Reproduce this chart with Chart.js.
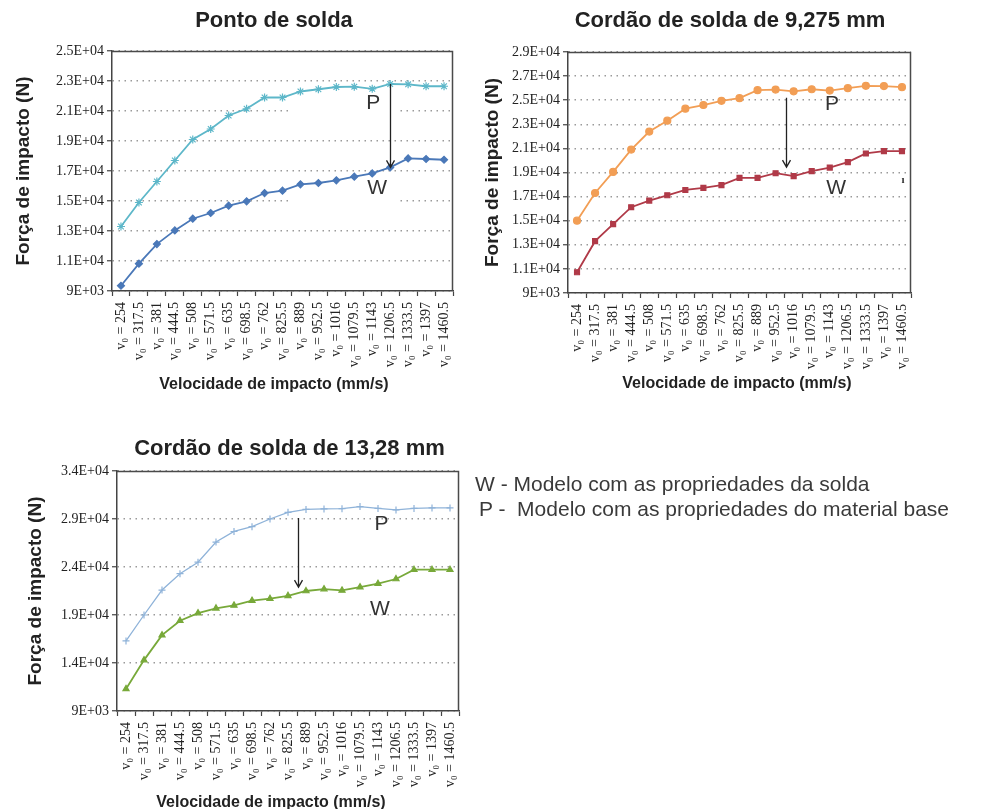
<!DOCTYPE html>
<html>
<head>
<meta charset="utf-8">
<script src="https://cdn.jsdelivr.net/npm/chart.js@4.4.1/dist/chart.umd.min.js"></script>
<style>
  html, body { margin: 0; padding: 0; background: #fff; width: 990px; height: 809px; overflow: hidden; }
  canvas { position: absolute; }
  .note { position: absolute; font-family: "Liberation Sans", Arial, sans-serif; font-size: 21px; color: #3a3a3a; white-space: pre; line-height: 25px; }
</style>
</head>
<body>
<canvas id="c1" width="475" height="400" style="left:0;top:0"></canvas>
<canvas id="c2" width="475" height="400" style="left:475px;top:0"></canvas>
<canvas id="c3" width="480" height="389" style="left:0;top:420px"></canvas>
<div class="note" style="left:475px;top:471px">W - Modelo com as propriedades da solda</div>
<div class="note" style="left:479px;top:496px">P -  Modelo com as propriedades do material base</div>
<script>
// Impact velocities (mm/s) and the axis labels built from them
const velocities = ['254', '317.5', '381', '444.5', '508', '571.5', '635', '698.5', '762', '825.5',
                    '889', '952.5', '1016', '1079.5', '1143', '1206.5', '1333.5', '1397', '1460.5'];
const velocityLabels = velocities.map(v => 'v\u2080 = ' + v);

// Ponto de solda
const pontoP = [13300, 14900, 16300, 17700, 19100, 19800, 20700, 21150, 21900, 21900,
                22300, 22450, 22600, 22620, 22480, 22800, 22780, 22650, 22650];
const pontoW = [9350, 10820, 12130, 13040, 13820, 14200, 14690, 14980, 15530, 15690,
                16110, 16200, 16380, 16620, 16840, 17240, 17840, 17800, 17750];
const pontoTicks = [9000, 11000, 13000, 15000, 17000, 19000, 21000, 23000, 25000];

// Cordão de solda de 9,275 mm
const cordao9P = [15000, 17300, 19050, 20900, 22400, 23300, 24300, 24600, 24950, 25170,
                  25830, 25880, 25740, 25910, 25800, 26000, 26190, 26170, 26080];
const cordao9W = [10720, 13300, 14720, 16120, 16670, 17110, 17550, 17720, 17950, 18560,
                  18560, 18940, 18700, 19110, 19410, 19860, 20580, 20780, 20780];
const cordao9Ticks = [9000, 11000, 13000, 15000, 17000, 19000, 21000, 23000, 25000, 27000, 29000];

// Cordão de solda de 13,28 mm
const cordao13P = [16300, 19000, 21600, 23300, 24500, 26600, 27700, 28200, 29000, 29700,
                   30000, 30050, 30080, 30290, 30100, 29950, 30100, 30150, 30150];
const cordao13W = [11300, 14300, 16900, 18400, 19200, 19700, 20000, 20500, 20700, 21000,
                   21500, 21700, 21560, 21900, 22260, 22750, 23720, 23720, 23720];
const cordao13Ticks = [9000, 14000, 19000, 24000, 29000, 34000];

const SANS = '"Liberation Sans", Arial, sans-serif';
const SERIF = '"Liberation Serif", "DejaVu Serif", serif';

// 25000 -> "2.5E+04"
function sci(v) {
  const [m, e] = Number(v).toExponential().split('e');
  return m + 'E' + e[0] + e.slice(1).padStart(2, '0');
}

// Frame, headings, P/W tags and the P→W arrow of each panel
const panelPlugin = {
  id: 'panel',
  beforeDatasetsDraw(chart, args, o) {
    const { ctx, scales: { x, y } } = chart;
    ctx.save();
    ctx.fillStyle = '#fff';
    (o.gaps || []).forEach(g => {
      const yy = y.getPixelForValue(g.value);
      const x1 = x.getPixelForValue(g.from), x2 = x.getPixelForValue(g.to);
      ctx.fillRect(x1, yy - 2, x2 - x1, 4);
    });
    ctx.restore();
  },
  afterDraw(chart, args, o) {
    const { ctx, chartArea: a, scales: { x, y } } = chart;
    ctx.save();
    ctx.strokeStyle = '#4a4a4a';
    ctx.lineWidth = 1.5;
    ctx.beginPath();
    ctx.moveTo(a.left, a.top + 0.5);
    ctx.lineTo(a.right - 0.5, a.top + 0.5);
    ctx.lineTo(a.right - 0.5, a.bottom);
    ctx.stroke();

    const cx = (a.left + a.right) / 2;
    ctx.fillStyle = '#222';
    ctx.textAlign = 'center';
    ctx.textBaseline = 'alphabetic';
    ctx.font = 'bold 22px ' + SANS;
    ctx.fillText(o.title, cx + o.titleDx, o.titleY);
    ctx.font = 'bold 16px ' + SANS;
    ctx.fillText(o.xTitle, cx + o.xTitleDx, o.xTitleY);

    ctx.textBaseline = 'middle';
    o.tags.forEach(t => {
      ctx.font = t.font || ('21px ' + SANS);
      ctx.fillStyle = '#333';
      ctx.fillText(t.text, x.getPixelForValue(t.at), y.getPixelForValue(t.value));
    });

    const ar = o.arrow;
    const ax = Math.round(x.getPixelForValue(ar.at)) + 0.5;
    const y1 = y.getPixelForValue(ar.from), y2 = y.getPixelForValue(ar.to);
    ctx.strokeStyle = '#222';
    ctx.lineWidth = 1.3;
    ctx.beginPath();
    ctx.moveTo(ax, y1);
    ctx.lineTo(ax, y2);
    ctx.moveTo(ax - 4, y2 - 7);
    ctx.lineTo(ax, y2);
    ctx.lineTo(ax + 4, y2 - 7);
    ctx.stroke();
    ctx.restore();
  }
};

function series(data, color, style, radius, lineWidth) {
  return {
    data,
    borderColor: color,
    backgroundColor: color,
    pointBorderColor: color,
    pointBackgroundColor: color,
    pointStyle: style,
    pointRadius: radius,
    pointBorderWidth: 1.2,
    borderWidth: lineWidth,
    tension: 0,
    fill: false
  };
}

function panel(id, cfg) {
  const canvas = document.getElementById(id);
  const W = canvas.width, H = canvas.height, area = cfg.area;
  return new Chart(canvas, {
    type: 'line',
    data: { labels: velocityLabels, datasets: cfg.datasets },
    plugins: [panelPlugin],
    options: {
      responsive: false,
      animation: false,
      devicePixelRatio: 1,
      layout: { padding: { left: 0, top: area.top, right: W - area.right, bottom: 0 } },
      plugins: {
        legend: { display: false },
        tooltip: { enabled: false },
        title: { display: false },
        panel: cfg.panel
      },
      scales: {
        x: {
          type: 'category',
          offset: true,
          grid: { display: true, drawOnChartArea: false, drawTicks: true, tickLength: 5, offset: true,
                  tickColor: '#444', tickWidth: 1.2 },
          border: { display: true, color: '#444', width: 1.5 },
          ticks: { autoSkip: false, maxRotation: 90, minRotation: 90, padding: 6,
                   font: { family: SERIF, size: 14 }, color: '#222' },
          afterFit: s => { s.height = H - area.bottom; }
        },
        y: {
          min: cfg.ticks[0],
          max: cfg.ticks[cfg.ticks.length - 1],
          afterBuildTicks: s => { s.ticks = cfg.ticks.map(v => ({ value: v })); },
          grid: { color: '#9a9a9a', lineWidth: 1.5, drawTicks: true, tickLength: 5,
                  tickColor: '#444', tickWidth: 1.2 },
          border: { display: true, color: '#444', width: 1.5, dash: [1.5, 4.5] },
          ticks: { font: { family: SERIF, size: 14 }, color: '#222', padding: 3, callback: v => sci(v) },
          title: { display: true, text: 'Força de impacto (N)', color: '#222',
                   font: { family: SANS, size: 19, weight: 'bold' }, padding: { top: cfg.yTitlePad, bottom: 0 } },
          afterFit: s => { s.width = area.left; }
        }
      }
    }
  });
}

panel('c1', {
  area: { left: 112, top: 51, right: 453, bottom: 291 },
  ticks: pontoTicks,
  yTitlePad: 12.6,
  datasets: [
    series(pontoP, '#5db7c9', 'star', 4, 1.8),
    series(pontoW, '#4a78b8', 'rectRot', 3.5, 1.8)
  ],
  panel: {
    title: 'Ponto de solda', titleDx: -8.5, titleY: 27,
    xTitle: 'Velocidade de impacto (mm/s)', xTitleDx: -8.5, xTitleY: 389,
    tags: [{ text: 'P', at: 14.05, value: 21530 }, { text: 'W', at: 14.27, value: 15870 }],
    arrow: { at: 15, from: pontoP[15], to: pontoW[15] },
    gaps: [{ value: 21000, from: 9.4, to: 15.35 }, { value: 15000, from: 9.4, to: 15.35 }]
  }
});

panel('c2', {
  area: { left: 93, top: 52, right: 436, bottom: 293 },
  ticks: cordao9Ticks,
  yTitlePad: 6.6,
  datasets: [
    series(cordao9P, '#f29e55', 'circle', 3.5, 1.8),
    series(cordao9W, '#b03a48', 'rect', 3.5, 1.8)
  ],
  panel: {
    title: 'Cordão de solda de 9,275 mm', titleDx: -9.5, titleY: 27,
    xTitle: 'Velocidade de impacto (mm/s)', xTitleDx: -2.5, xTitleY: 388,
    tags: [{ text: 'P', at: 14.13, value: 24685 }, { text: 'W', at: 14.35, value: 17714 },
           { text: 'ı', at: 18.06, value: 18380, font: 'bold 11px ' + SERIF }],
    arrow: { at: 11.6, from: 25200, to: 19450 }
  }
});

panel('c3', {
  area: { left: 117, top: 51, right: 459, bottom: 291 },
  ticks: cordao13Ticks,
  yTitlePad: 24.6,
  datasets: [
    series(cordao13P, '#8fb3d9', 'cross', 3.5, 1.3),
    series(cordao13W, '#78a93a', 'triangle', 3.5, 1.8)
  ],
  panel: {
    title: 'Cordão de solda de 13,28 mm', titleDx: 1.5, titleY: 35,
    xTitle: 'Velocidade de impacto (mm/s)', xTitleDx: -17, xTitleY: 387,
    tags: [{ text: 'P', at: 14.2, value: 28480 }, { text: 'W', at: 14.1, value: 19625 }],
    arrow: { at: 9.55, from: 29100, to: 21900 }
  }
});
</script>
</body>
</html>
